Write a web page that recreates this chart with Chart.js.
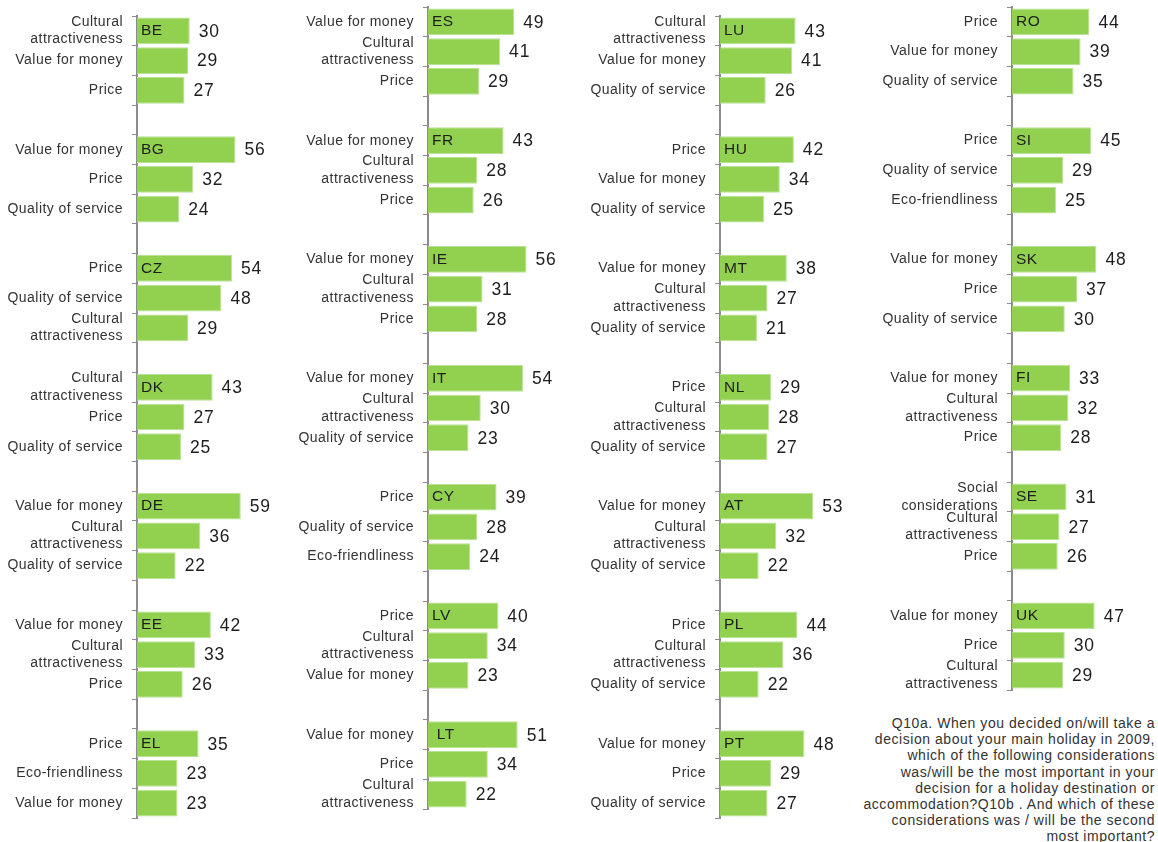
<!DOCTYPE html>
<html>
<head>
<meta charset="utf-8">
<script src="https://cdn.jsdelivr.net/npm/chart.js@4"></script>
<style>
    body { margin: 0; background: #fff; width: 1158px; height: 842px; overflow: hidden; position: relative; }
    canvas { position: absolute; }
    .note {
        position: absolute; right: 3px; top: 715px; width: 320px;
        font-family: "Liberation Sans", Arial, sans-serif; font-size: 14px; line-height: 16.2px;
        letter-spacing: 0.55px; color: #333; text-align: right;
    }
</style>
</head>
<body>
<div class="note">Q10a. When you decided on/will take a<br>decision about your main holiday in 2009,<br>which of the following considerations<br>was/will be the most important in your<br>decision for a holiday destination or<br>accommodation?Q10b . And which of these<br>considerations was / will be the second<br>most important?</div>
<script>
// column 1
const col1Countries = ["BE", "BG", "CZ", "DK", "DE", "EE", "EL"];
const col1Labels = [
    ["Cultural attractiveness", "Value for money", "Price"],
    ["Value for money", "Price", "Quality of service"],
    ["Price", "Quality of service", "Cultural attractiveness"],
    ["Cultural attractiveness", "Price", "Quality of service"],
    ["Value for money", "Cultural attractiveness", "Quality of service"],
    ["Value for money", "Cultural attractiveness", "Price"],
    ["Price", "Eco-friendliness", "Value for money"]
];
const col1Values = [[30, 29, 27], [56, 32, 24], [54, 48, 29], [43, 27, 25], [59, 36, 22], [42, 33, 26], [35, 23, 23]];

// column 2
const col2Countries = ["ES", "FR", "IE", "IT", "CY", "LV", " LT"];
const col2Labels = [
    ["Value for money", "Cultural attractiveness", "Price"],
    ["Value for money", "Cultural attractiveness", "Price"],
    ["Value for money", "Cultural attractiveness", "Price"],
    ["Value for money", "Cultural attractiveness", "Quality of service"],
    ["Price", "Quality of service", "Eco-friendliness"],
    ["Price", "Cultural attractiveness", "Value for money"],
    ["Value for money", "Price", "Cultural attractiveness"]
];
const col2Values = [[49, 41, 29], [43, 28, 26], [56, 31, 28], [54, 30, 23], [39, 28, 24], [40, 34, 23], [51, 34, 22]];

// column 3
const col3Countries = ["LU", "HU", "MT", "NL", "AT", "PL", "PT"];
const col3Labels = [
    ["Cultural attractiveness", "Value for money", "Quality of service"],
    ["Price", "Value for money", "Quality of service"],
    ["Value for money", "Cultural attractiveness", "Quality of service"],
    ["Price", "Cultural attractiveness", "Quality of service"],
    ["Value for money", "Cultural attractiveness", "Quality of service"],
    ["Price", "Cultural attractiveness", "Quality of service"],
    ["Value for money", "Price", "Quality of service"]
];
const col3Values = [[43, 41, 26], [42, 34, 25], [38, 27, 21], [29, 28, 27], [53, 32, 22], [44, 36, 22], [48, 29, 27]];

// column 4
const col4Countries = ["RO", "SI", "SK", "FI", "SE", "UK"];
const col4Labels = [
    ["Price", "Value for money", "Quality of service"],
    ["Price", "Quality of service", "Eco-friendliness"],
    ["Value for money", "Price", "Quality of service"],
    ["Value for money", "Cultural attractiveness", "Price"],
    ["Social considerations", "Cultural attractiveness", "Price"],
    ["Value for money", "Price", "Cultural attractiveness"]
];
const col4Values = [[44, 39, 35], [45, 29, 25], [48, 37, 30], [33, 32, 28], [31, 27, 26], [47, 30, 29]];

const FONT = '"Liberation Sans", Arial, sans-serif';
const SLOT = 29.7;
const PAD = 10;

// long labels are split on two lines like in the original
const twoLines = {
    "Cultural attractiveness": ["Cultural", "attractiveness"],
    "Social considerations": ["Social", "considerations"]
};

const columns = [
    { countries: col1Countries, labels: col1Labels, values: col1Values, left: 0, top: 15.5 },
    { countries: col2Countries, labels: col2Labels, values: col2Values, left: 291, top: 6.5 },
    { countries: col3Countries, labels: col3Labels, values: col3Values, left: 583, top: 15.5 },
    { countries: col4Countries, labels: col4Labels, values: col4Values, left: 875, top: 6.5 }
];

columns.forEach((col) => {
    let labels = [];
    let data = [];
    let codes = [];
    col.countries.forEach((c, p) => {
        if (p > 0) {
            // empty slot between two countries
            labels.push("");
            data.push(null);
            codes.push(null);
        }
        for (let i = 0; i < 3; i++) {
            let l = col.labels[p][i];
            labels.push(twoLines[l] ? twoLines[l] : l);
            data.push(col.values[p][i]);
            codes.push(i == 0 ? c : null);
        }
    });

    let canvas = document.createElement("canvas");
    let h = Math.round(PAD * 2 + labels.length * SLOT);
    canvas.width = 290;
    canvas.height = h;
    canvas.style.left = col.left + "px";
    canvas.style.top = (col.top - PAD) + "px";
    document.body.appendChild(canvas);

    const barLabels = {
        id: "barLabels",
        beforeDraw(chart) {
            // a bit of spacing like the original office rendering
            chart.ctx.letterSpacing = "0.45px";
        },
        afterDatasetsDraw(chart) {
            const ctx = chart.ctx;
            const meta = chart.getDatasetMeta(0);
            ctx.save();
            ctx.textBaseline = "middle";
            ctx.textAlign = "left";
            ctx.fillStyle = "#1e1e1e";
            meta.data.forEach((bar, i) => {
                if (data[i] == null) return;
                ctx.letterSpacing = "0.8px";
                ctx.font = "17.5px " + FONT;
                ctx.fillText(data[i], bar.x + 9, bar.y + 1);
                if (codes[i]) {
                    ctx.letterSpacing = "0.5px";
                    ctx.font = "15.5px " + FONT;
                    ctx.fillText(codes[i], bar.base + 4, bar.y);
                }
            });
            ctx.restore();
        }
    };

    new Chart(canvas, {
        type: "bar",
        data: {
            labels: labels,
            datasets: [{
                data: data,
                backgroundColor: "#92d050",
                borderColor: "#b9e394",
                borderWidth: 1,
                barPercentage: 0.9,
                categoryPercentage: 1.0
            }]
        },
        options: {
            indexAxis: "y",
            responsive: false,
            animation: false,
            layout: { padding: { top: PAD, bottom: PAD, left: 0, right: 0 } },
            plugins: {
                legend: { display: false },
                tooltip: { enabled: false }
            },
            scales: {
                x: { display: false, min: 0, max: 87 },
                y: {
                    grid: {
                        offset: true,
                        drawOnChartArea: false,
                        drawTicks: true,
                        tickLength: 5,
                        color: "#8c8c8c",
                        lineWidth: 1
                    },
                    border: { display: true, color: "#8c8c8c", width: 2 },
                    ticks: {
                        autoSkip: false,
                        padding: 9,
                        color: "#333",
                        font: { family: FONT, size: 14, lineHeight: 1.25 }
                    },
                    afterFit: (axis) => {
                        axis.width = 137;
                        axis.paddingTop = 0;
                        axis.paddingBottom = 0;
                    }
                }
            }
        },
        plugins: [barLabels]
    });
});
</script>
</body>
</html>
